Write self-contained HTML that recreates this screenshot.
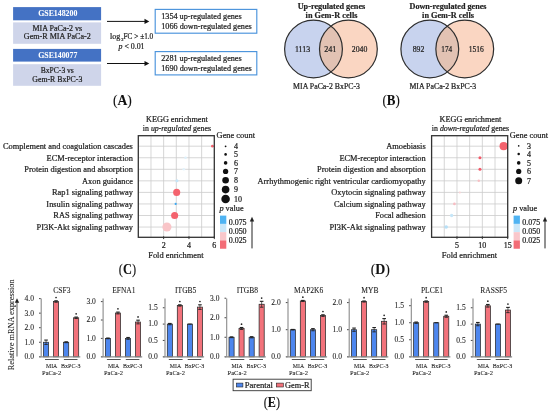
<!DOCTYPE html>
<html><head><meta charset="utf-8"><style>
html,body{margin:0;padding:0;background:#fff;}
body{width:550px;height:411px;overflow:hidden;}
svg{display:block;will-change:transform;}
text{font-family:"Liberation Serif", serif;fill:#222;stroke:#222;stroke-width:0.22px;}
.b{stroke-width:0.05px;}
.e{stroke-width:0.08px;fill:#1a1a1a;stroke:#1a1a1a;}
.w{fill:#fff;stroke:#fff;stroke-width:0.05px;}
.pl{fill:#111;stroke:#111;stroke-width:0.1px;}
</style></head><body>
<svg width="550" height="411" viewBox="0 0 550 411">
<rect x="13.1" y="7.1" width="88" height="13.2" fill="#4472C4"/>
<rect x="13.1" y="22.4" width="88" height="21.4" fill="#CFD5EA"/>
<rect x="13.1" y="48.9" width="88" height="12.7" fill="#4472C4"/>
<rect x="13.1" y="64.2" width="88" height="21.6" fill="#CFD5EA"/>
<text x="57.80" y="16.30" font-size="8" text-anchor="middle" textLength="39.20" lengthAdjust="spacingAndGlyphs" font-weight="bold" class="w" >GSE148200</text>
<text x="57.35" y="30.60" font-size="8" text-anchor="middle" textLength="49.70" lengthAdjust="spacingAndGlyphs" >MIA PaCa-2 vs</text>
<text x="57.30" y="39.20" font-size="8" text-anchor="middle" textLength="67.00" lengthAdjust="spacingAndGlyphs" >Gem-R MIA PaCa-2</text>
<text x="57.80" y="58.00" font-size="8" text-anchor="middle" textLength="39.20" lengthAdjust="spacingAndGlyphs" font-weight="bold" class="w" >GSE140077</text>
<text x="57.30" y="72.90" font-size="8" text-anchor="middle" textLength="33.00" lengthAdjust="spacingAndGlyphs" >BxPC-3 vs</text>
<text x="57.30" y="81.50" font-size="8" text-anchor="middle" textLength="50.00" lengthAdjust="spacingAndGlyphs" >Gem-R BxPC-3</text>
<line x1="107" y1="21.4" x2="145" y2="21.4" stroke="#111" stroke-width="1"/>
<path d="M144.5 18.799999999999997 L149.3 21.4 L144.5 24.0 Z" fill="#111"/>
<line x1="107" y1="63.5" x2="145" y2="63.5" stroke="#111" stroke-width="1"/>
<path d="M144.5 60.9 L149.3 63.5 L144.5 66.1 Z" fill="#111"/>
<text x="110" y="39.4" font-size="8">log</text>
<text x="121.2" y="40.6" font-size="4.5">2</text>
<text x="123.6" y="39.4" font-size="8" textLength="29.6" lengthAdjust="spacingAndGlyphs">FC &gt; ±1.0</text>
<text x="118.5" y="48.5" font-size="8" textLength="26" lengthAdjust="spacingAndGlyphs"><tspan font-style="italic">p</tspan> &lt; 0.01</text>
<rect x="155.2" y="9.4" width="101.6" height="23.8" fill="#fff" stroke="#4A93DC" stroke-width="1.15"/>
<rect x="155.2" y="51.6" width="101.6" height="23.3" fill="#fff" stroke="#4A93DC" stroke-width="1.15"/>
<text x="161.20" y="19.20" font-size="8" textLength="80.50" lengthAdjust="spacingAndGlyphs" >1354 up-regulated genes</text>
<text x="161.20" y="28.50" font-size="8" textLength="90.60" lengthAdjust="spacingAndGlyphs" >1066 down-regulated genes</text>
<text x="161.20" y="61.40" font-size="8" textLength="80.50" lengthAdjust="spacingAndGlyphs" >2281 up-regulated genes</text>
<text x="161.20" y="70.70" font-size="8" textLength="90.60" lengthAdjust="spacingAndGlyphs" >1690 down-regulated genes</text>
<text x="122.45" y="105.10" font-size="14" text-anchor="middle" class="pl" textLength="18.90" lengthAdjust="spacingAndGlyphs">(<tspan font-weight="bold">A</tspan>)</text>
<circle cx="313.5" cy="49.0" r="28.9" fill="#C8D3EE"/>
<circle cx="348.4" cy="49.0" r="28.9" fill="#FAD6C2"/>
<clipPath id="cp313"><circle cx="313.5" cy="49.0" r="28.9"/></clipPath>
<circle cx="348.4" cy="49.0" r="28.9" fill="#E2C2B3" clip-path="url(#cp313)"/>
<circle cx="313.5" cy="49.0" r="28.9" fill="none" stroke="#2e2e2e" stroke-width="1.2"/>
<circle cx="348.4" cy="49.0" r="28.9" fill="none" stroke="#2e2e2e" stroke-width="1.2"/>
<text x="302.50" y="52.30" font-size="8" text-anchor="middle" textLength="15.20" lengthAdjust="spacingAndGlyphs" >1113</text>
<text x="330.35" y="52.30" font-size="8" text-anchor="middle" textLength="12.10" lengthAdjust="spacingAndGlyphs" >241</text>
<text x="359.50" y="52.30" font-size="8" text-anchor="middle" textLength="15.50" lengthAdjust="spacingAndGlyphs" >2040</text>
<text x="331.50" y="9.10" font-size="7.4" text-anchor="middle" textLength="67.60" lengthAdjust="spacingAndGlyphs" font-weight="bold" class="b" style="stroke-width:0.18px">Up-regulated genes</text>
<text x="331.50" y="17.80" font-size="7.4" text-anchor="middle" textLength="51.80" lengthAdjust="spacingAndGlyphs" font-weight="bold" class="b" style="stroke-width:0.18px">in Gem-R cells</text>
<text x="293.10" y="88.80" font-size="7.7" textLength="66.90" lengthAdjust="spacingAndGlyphs" >MIA PaCa-2 BxPC-3</text>
<circle cx="429.8" cy="49.0" r="28.9" fill="#C8D3EE"/>
<circle cx="464.75" cy="49.0" r="28.9" fill="#FAD6C2"/>
<clipPath id="cp429"><circle cx="429.8" cy="49.0" r="28.9"/></clipPath>
<circle cx="464.75" cy="49.0" r="28.9" fill="#E2C2B3" clip-path="url(#cp429)"/>
<circle cx="429.8" cy="49.0" r="28.9" fill="none" stroke="#2e2e2e" stroke-width="1.2"/>
<circle cx="464.75" cy="49.0" r="28.9" fill="none" stroke="#2e2e2e" stroke-width="1.2"/>
<text x="418.50" y="52.30" font-size="8" text-anchor="middle" textLength="11.60" lengthAdjust="spacingAndGlyphs" >892</text>
<text x="446.70" y="52.30" font-size="8" text-anchor="middle" textLength="10.80" lengthAdjust="spacingAndGlyphs" >174</text>
<text x="476.20" y="52.30" font-size="8" text-anchor="middle" textLength="15.10" lengthAdjust="spacingAndGlyphs" >1516</text>
<text x="448.00" y="9.10" font-size="7.4" text-anchor="middle" textLength="77.00" lengthAdjust="spacingAndGlyphs" font-weight="bold" class="b" style="stroke-width:0.18px">Down-regulated genes</text>
<text x="448.00" y="17.80" font-size="7.4" text-anchor="middle" textLength="51.80" lengthAdjust="spacingAndGlyphs" font-weight="bold" class="b" style="stroke-width:0.18px">in Gem-R cells</text>
<text x="409.40" y="88.80" font-size="7.7" textLength="66.90" lengthAdjust="spacingAndGlyphs" >MIA PaCa-2 BxPC-3</text>
<text x="391.15" y="105.10" font-size="14" text-anchor="middle" class="pl" textLength="17.30" lengthAdjust="spacingAndGlyphs">(<tspan font-weight="bold">B</tspan>)</text>
<line x1="150.97" y1="135.7" x2="150.97" y2="237.3" stroke="#cbcbcb" stroke-width="0.8"/>
<line x1="163.63" y1="135.7" x2="163.63" y2="237.3" stroke="#cbcbcb" stroke-width="0.8"/>
<line x1="176.30" y1="135.7" x2="176.30" y2="237.3" stroke="#cbcbcb" stroke-width="0.8"/>
<line x1="188.97" y1="135.7" x2="188.97" y2="237.3" stroke="#cbcbcb" stroke-width="0.8"/>
<line x1="201.63" y1="135.7" x2="201.63" y2="237.3" stroke="#cbcbcb" stroke-width="0.8"/>
<line x1="138.3" y1="146.20" x2="214.3" y2="146.20" stroke="#cbcbcb" stroke-width="0.8"/>
<line x1="138.3" y1="157.75" x2="214.3" y2="157.75" stroke="#cbcbcb" stroke-width="0.8"/>
<line x1="138.3" y1="169.30" x2="214.3" y2="169.30" stroke="#cbcbcb" stroke-width="0.8"/>
<line x1="138.3" y1="180.85" x2="214.3" y2="180.85" stroke="#cbcbcb" stroke-width="0.8"/>
<line x1="138.3" y1="192.40" x2="214.3" y2="192.40" stroke="#cbcbcb" stroke-width="0.8"/>
<line x1="138.3" y1="203.95" x2="214.3" y2="203.95" stroke="#cbcbcb" stroke-width="0.8"/>
<line x1="138.3" y1="215.50" x2="214.3" y2="215.50" stroke="#cbcbcb" stroke-width="0.8"/>
<line x1="138.3" y1="227.05" x2="214.3" y2="227.05" stroke="#cbcbcb" stroke-width="0.8"/>
<circle cx="185.55" cy="157.75" r="1.30" fill="#DDF0FB"/>
<circle cx="183.77" cy="169.30" r="1.30" fill="#E2F2FB"/>
<circle cx="176.93" cy="180.85" r="1.50" fill="#C4E5F8"/>
<circle cx="212.40" cy="146.20" r="1.35" fill="#F4636E"/>
<circle cx="176.68" cy="192.40" r="3.55" fill="#F4636E"/>
<circle cx="175.67" cy="203.95" r="1.10" fill="#3DA8F2"/>
<circle cx="174.65" cy="215.50" r="3.55" fill="#F4636E"/>
<circle cx="166.93" cy="227.05" r="4.55" fill="#F9C5C8"/>
<rect x="138.3" y="135.7" width="76.0" height="101.60000000000002" fill="none" stroke="#333" stroke-width="1.3"/>
<line x1="163.63" y1="236.3" x2="163.63" y2="239.10000000000002" stroke="#333" stroke-width="1"/>
<text x="163.63" y="247.80" font-size="8" text-anchor="middle" >2</text>
<line x1="188.97" y1="236.3" x2="188.97" y2="239.10000000000002" stroke="#333" stroke-width="1"/>
<text x="188.97" y="247.80" font-size="8" text-anchor="middle" >4</text>
<line x1="214.30" y1="236.3" x2="214.30" y2="239.10000000000002" stroke="#333" stroke-width="1"/>
<text x="214.30" y="247.80" font-size="8" text-anchor="middle" >6</text>
<text x="175.90" y="257.80" font-size="8" text-anchor="middle" textLength="55.30" lengthAdjust="spacingAndGlyphs" >Fold enrichment</text>
<text x="132.90" y="149.10" font-size="8.4" text-anchor="end" >Complement and coagulation cascades</text>
<text x="132.90" y="160.65" font-size="8.4" text-anchor="end" >ECM-receptor interaction</text>
<text x="132.90" y="172.20" font-size="8.4" text-anchor="end" >Protein digestion and absorption</text>
<text x="132.90" y="183.75" font-size="8.4" text-anchor="end" >Axon guidance</text>
<text x="132.90" y="195.30" font-size="8.4" text-anchor="end" >Rap1 signaling pathway</text>
<text x="132.90" y="206.85" font-size="8.4" text-anchor="end" >Insulin signaling pathway</text>
<text x="132.90" y="218.40" font-size="8.4" text-anchor="end" >RAS signaling pathway</text>
<text x="132.90" y="229.95" font-size="8.4" text-anchor="end" >PI3K-Akt signaling pathway</text>
<text x="176.90" y="121.50" font-size="8" text-anchor="middle" textLength="61.80" lengthAdjust="spacingAndGlyphs" >KEGG enrichment</text>
<text x="176.90" y="130.7" font-size="8" text-anchor="middle" textLength="68.20" lengthAdjust="spacingAndGlyphs">in <tspan font-style="italic">up-regulated</tspan> genes</text>
<text x="216.60" y="137.70" font-size="8" textLength="38.40" lengthAdjust="spacingAndGlyphs" >Gene count</text>
<circle cx="225.6" cy="146.3" r="0.90" fill="#111"/>
<text x="234.00" y="149.10" font-size="8" >4</text>
<circle cx="225.6" cy="154.4" r="1.30" fill="#111"/>
<text x="234.00" y="157.20" font-size="8" >5</text>
<circle cx="225.6" cy="162.9" r="1.80" fill="#111"/>
<text x="234.00" y="165.70" font-size="8" >6</text>
<circle cx="225.6" cy="171.4" r="2.65" fill="#111"/>
<text x="234.00" y="174.20" font-size="8" >7</text>
<circle cx="225.6" cy="180.3" r="3.30" fill="#111"/>
<text x="234.00" y="183.10" font-size="8" >8</text>
<circle cx="225.6" cy="189.6" r="3.80" fill="#111"/>
<text x="234.00" y="192.40" font-size="8" >9</text>
<circle cx="225.6" cy="199.0" r="4.30" fill="#111"/>
<text x="234.00" y="201.80" font-size="8" >10</text>
<text x="219.40" y="211.4" font-size="8" textLength="24.2" lengthAdjust="spacingAndGlyphs"><tspan font-style="italic">p</tspan> value</text>
<rect x="220.0" y="215.60" width="6.3" height="8.32" fill="#4FB3F2"/>
<rect x="220.0" y="223.88" width="6.3" height="8.32" fill="#CBE7F8"/>
<rect x="220.0" y="232.15" width="6.3" height="8.32" fill="#F9C7CB"/>
<rect x="220.0" y="240.42" width="6.3" height="8.32" fill="#F36C76"/>
<text x="228.70" y="225.00" font-size="8" textLength="17.90" lengthAdjust="spacingAndGlyphs" >0.075</text>
<text x="228.70" y="234.00" font-size="8" textLength="17.90" lengthAdjust="spacingAndGlyphs" >0.050</text>
<text x="228.70" y="243.00" font-size="8" textLength="17.90" lengthAdjust="spacingAndGlyphs" >0.025</text>
<line x1="252.0" y1="220" x2="252.0" y2="248.4" stroke="#222" stroke-width="1"/>
<path d="M249.8 221.5 L252.0 216.8 L254.2 221.5 Z" fill="#222"/>
<line x1="444.28" y1="135.7" x2="444.28" y2="237.3" stroke="#cbcbcb" stroke-width="0.8"/>
<line x1="456.97" y1="135.7" x2="456.97" y2="237.3" stroke="#cbcbcb" stroke-width="0.8"/>
<line x1="469.65" y1="135.7" x2="469.65" y2="237.3" stroke="#cbcbcb" stroke-width="0.8"/>
<line x1="482.33" y1="135.7" x2="482.33" y2="237.3" stroke="#cbcbcb" stroke-width="0.8"/>
<line x1="495.02" y1="135.7" x2="495.02" y2="237.3" stroke="#cbcbcb" stroke-width="0.8"/>
<line x1="431.6" y1="146.20" x2="507.7" y2="146.20" stroke="#cbcbcb" stroke-width="0.8"/>
<line x1="431.6" y1="157.75" x2="507.7" y2="157.75" stroke="#cbcbcb" stroke-width="0.8"/>
<line x1="431.6" y1="169.30" x2="507.7" y2="169.30" stroke="#cbcbcb" stroke-width="0.8"/>
<line x1="431.6" y1="180.85" x2="507.7" y2="180.85" stroke="#cbcbcb" stroke-width="0.8"/>
<line x1="431.6" y1="192.40" x2="507.7" y2="192.40" stroke="#cbcbcb" stroke-width="0.8"/>
<line x1="431.6" y1="203.95" x2="507.7" y2="203.95" stroke="#cbcbcb" stroke-width="0.8"/>
<line x1="431.6" y1="215.50" x2="507.7" y2="215.50" stroke="#cbcbcb" stroke-width="0.8"/>
<line x1="431.6" y1="227.05" x2="507.7" y2="227.05" stroke="#cbcbcb" stroke-width="0.8"/>
<circle cx="503.64" cy="146.20" r="4.10" fill="#F4636E"/>
<circle cx="479.95" cy="157.75" r="1.50" fill="#F25A6A"/>
<circle cx="479.95" cy="169.30" r="1.50" fill="#F25A6A"/>
<circle cx="478.78" cy="180.85" r="1.25" fill="#F8BFC4"/>
<circle cx="459.81" cy="192.40" r="1.00" fill="#FAD3D6"/>
<circle cx="454.43" cy="203.95" r="1.35" fill="#F8BCC2"/>
<circle cx="451.64" cy="215.50" r="1.65" fill="#C6E6F8"/>
<circle cx="446.16" cy="227.05" r="1.80" fill="#B6DFF7"/>
<rect x="431.6" y="135.7" width="76.09999999999997" height="101.60000000000002" fill="none" stroke="#333" stroke-width="1.3"/>
<line x1="456.97" y1="236.3" x2="456.97" y2="239.10000000000002" stroke="#333" stroke-width="1"/>
<text x="456.97" y="247.80" font-size="8" text-anchor="middle" >5</text>
<line x1="482.33" y1="236.3" x2="482.33" y2="239.10000000000002" stroke="#333" stroke-width="1"/>
<text x="482.33" y="247.80" font-size="8" text-anchor="middle" >10</text>
<line x1="507.70" y1="236.3" x2="507.70" y2="239.10000000000002" stroke="#333" stroke-width="1"/>
<text x="507.70" y="247.80" font-size="8" text-anchor="middle" >15</text>
<text x="469.50" y="257.80" font-size="8" text-anchor="middle" textLength="55.30" lengthAdjust="spacingAndGlyphs" >Fold enrichment</text>
<text x="425.70" y="149.10" font-size="8.4" text-anchor="end" >Amoebiasis</text>
<text x="425.70" y="160.65" font-size="8.4" text-anchor="end" >ECM-receptor interaction</text>
<text x="425.70" y="172.20" font-size="8.4" text-anchor="end" >Protein digestion and absorption</text>
<text x="425.70" y="183.75" font-size="8.4" text-anchor="end" >Arrhythmogenic right ventricular cardiomyopathy</text>
<text x="425.70" y="195.30" font-size="8.4" text-anchor="end" >Oxytocin signaling pathway</text>
<text x="425.70" y="206.85" font-size="8.4" text-anchor="end" >Calcium signaling pathway</text>
<text x="425.70" y="218.40" font-size="8.4" text-anchor="end" >Focal adhesion</text>
<text x="425.70" y="229.95" font-size="8.4" text-anchor="end" >PI3K-Akt signaling pathway</text>
<text x="470.50" y="121.50" font-size="8" text-anchor="middle" textLength="61.80" lengthAdjust="spacingAndGlyphs" >KEGG enrichment</text>
<text x="470.50" y="130.7" font-size="8" text-anchor="middle" textLength="77.30" lengthAdjust="spacingAndGlyphs">in <tspan font-style="italic">down-regulated</tspan> genes</text>
<text x="509.70" y="137.70" font-size="8" textLength="38.40" lengthAdjust="spacingAndGlyphs" >Gene count</text>
<circle cx="518.7" cy="145.9" r="0.80" fill="#111"/>
<text x="527.10" y="148.70" font-size="8" >3</text>
<circle cx="518.7" cy="154.0" r="1.25" fill="#111"/>
<text x="527.10" y="156.80" font-size="8" >4</text>
<circle cx="518.7" cy="162.9" r="1.80" fill="#111"/>
<text x="527.10" y="165.70" font-size="8" >5</text>
<circle cx="518.7" cy="171.4" r="2.60" fill="#111"/>
<text x="527.10" y="174.20" font-size="8" >6</text>
<circle cx="518.7" cy="180.7" r="3.50" fill="#111"/>
<text x="527.10" y="183.50" font-size="8" >7</text>
<text x="513.00" y="211.4" font-size="8" textLength="24.2" lengthAdjust="spacingAndGlyphs"><tspan font-style="italic">p</tspan> value</text>
<rect x="513.6" y="215.60" width="6.3" height="8.32" fill="#4FB3F2"/>
<rect x="513.6" y="223.88" width="6.3" height="8.32" fill="#CBE7F8"/>
<rect x="513.6" y="232.15" width="6.3" height="8.32" fill="#F9C7CB"/>
<rect x="513.6" y="240.42" width="6.3" height="8.32" fill="#F36C76"/>
<text x="522.30" y="225.00" font-size="8" textLength="17.90" lengthAdjust="spacingAndGlyphs" >0.075</text>
<text x="522.30" y="234.00" font-size="8" textLength="17.90" lengthAdjust="spacingAndGlyphs" >0.050</text>
<text x="522.30" y="243.00" font-size="8" textLength="17.90" lengthAdjust="spacingAndGlyphs" >0.025</text>
<line x1="545.0" y1="220" x2="545.0" y2="248.4" stroke="#222" stroke-width="1"/>
<path d="M542.8 221.5 L545.0 216.8 L547.2 221.5 Z" fill="#222"/>
<text x="127.45" y="273.80" font-size="14" text-anchor="middle" class="pl" textLength="17.30" lengthAdjust="spacingAndGlyphs">(<tspan font-weight="bold">C</tspan>)</text>
<text x="380.30" y="273.60" font-size="14" text-anchor="middle" class="pl" textLength="19.30" lengthAdjust="spacingAndGlyphs">(<tspan font-weight="bold">D</tspan>)</text>
<text class="e" x="0" y="0" font-size="8.2" text-anchor="middle" textLength="90.9" lengthAdjust="spacingAndGlyphs" transform="translate(13.6 324.85) rotate(-90)">Relative mRNA expression</text>
<line x1="17" y1="301" x2="17" y2="356.6" stroke="#666" stroke-width="1.1"/>
<path d="M14.8 302.8 L17 298.2 L19.2 302.8 Z" fill="#222"/>
<text x="61.90" y="293.20" font-size="7.5" text-anchor="middle" class="e">CSF3</text>
<line x1="41.2" y1="298.5" x2="41.2" y2="356.8" stroke="#8a8a8a" stroke-width="1.1"/>
<line x1="39.0" y1="356.80" x2="40.7" y2="356.80" stroke="#333" stroke-width="0.9"/>
<text x="33.90" y="359.15" font-size="7.2" text-anchor="end" textLength="9.40" lengthAdjust="spacingAndGlyphs" class="e">0.0</text>
<line x1="39.0" y1="342.25" x2="40.7" y2="342.25" stroke="#333" stroke-width="0.9"/>
<text x="33.90" y="344.60" font-size="7.2" text-anchor="end" textLength="9.40" lengthAdjust="spacingAndGlyphs" class="e">1.0</text>
<line x1="39.0" y1="327.70" x2="40.7" y2="327.70" stroke="#333" stroke-width="0.9"/>
<text x="33.90" y="330.05" font-size="7.2" text-anchor="end" textLength="9.40" lengthAdjust="spacingAndGlyphs" class="e">2.0</text>
<line x1="39.0" y1="313.15" x2="40.7" y2="313.15" stroke="#333" stroke-width="0.9"/>
<text x="33.90" y="315.50" font-size="7.2" text-anchor="end" textLength="9.40" lengthAdjust="spacingAndGlyphs" class="e">3.0</text>
<line x1="39.0" y1="298.60" x2="40.7" y2="298.60" stroke="#333" stroke-width="0.9"/>
<text x="33.90" y="300.95" font-size="7.2" text-anchor="end" textLength="9.40" lengthAdjust="spacingAndGlyphs" class="e">4.0</text>
<rect x="43.50" y="342.25" width="5.1" height="14.55" fill="#4D86EE" stroke="#2a2a2a" stroke-width="0.75"/>
<line x1="46.05" y1="340.07" x2="46.05" y2="344.43" stroke="#222" stroke-width="0.7"/>
<line x1="44.35" y1="344.43" x2="47.75" y2="344.43" stroke="#222" stroke-width="0.9"/>
<line x1="44.25" y1="340.07" x2="47.85" y2="340.07" stroke="#222" stroke-width="1.1"/>
<rect x="53.50" y="301.51" width="5.1" height="55.29" fill="#F2727B" stroke="#2a2a2a" stroke-width="0.75"/>
<line x1="56.05" y1="300.78" x2="56.05" y2="302.24" stroke="#222" stroke-width="0.7"/>
<line x1="54.35" y1="302.24" x2="57.75" y2="302.24" stroke="#222" stroke-width="0.9"/>
<line x1="54.25" y1="300.78" x2="57.85" y2="300.78" stroke="#222" stroke-width="1.1"/>
<circle cx="56.05" cy="297.48" r="0.85" fill="#222"/>
<rect x="63.60" y="342.25" width="5.1" height="14.55" fill="#4D86EE" stroke="#2a2a2a" stroke-width="0.75"/>
<line x1="66.15" y1="341.81" x2="66.15" y2="342.69" stroke="#222" stroke-width="0.7"/>
<line x1="64.45" y1="342.69" x2="67.85" y2="342.69" stroke="#222" stroke-width="0.9"/>
<line x1="64.35" y1="341.81" x2="67.95" y2="341.81" stroke="#222" stroke-width="1.1"/>
<rect x="73.60" y="317.81" width="5.1" height="38.99" fill="#F2727B" stroke="#2a2a2a" stroke-width="0.75"/>
<line x1="76.15" y1="317.08" x2="76.15" y2="318.53" stroke="#222" stroke-width="0.7"/>
<line x1="74.45" y1="318.53" x2="77.85" y2="318.53" stroke="#222" stroke-width="0.9"/>
<line x1="74.35" y1="317.08" x2="77.95" y2="317.08" stroke="#222" stroke-width="1.1"/>
<circle cx="76.15" cy="313.78" r="0.85" fill="#222"/>
<line x1="39.400000000000006" y1="356.8" x2="80.30000000000001" y2="356.8" stroke="#8a8a8a" stroke-width="1.2"/>
<line x1="45.0" y1="359.5" x2="58.800000000000004" y2="359.5" stroke="#555" stroke-width="1"/>
<line x1="63.900000000000006" y1="359.5" x2="77.5" y2="359.5" stroke="#555" stroke-width="1"/>
<text x="51.65" y="367.70" font-size="7.0" text-anchor="middle" textLength="11.30" lengthAdjust="spacingAndGlyphs" class="e">MIA</text>
<text x="70.75" y="367.70" font-size="7.0" text-anchor="middle" textLength="19.40" lengthAdjust="spacingAndGlyphs" class="e">BxPC-3</text>
<text x="51.65" y="374.80" font-size="7.0" text-anchor="middle" textLength="19.10" lengthAdjust="spacingAndGlyphs" class="e">PaCa-2</text>
<text x="123.80" y="293.20" font-size="7.5" text-anchor="middle" class="e">EFNA1</text>
<line x1="103.1" y1="298.5" x2="103.1" y2="356.8" stroke="#8a8a8a" stroke-width="1.1"/>
<line x1="100.89999999999999" y1="356.80" x2="102.6" y2="356.80" stroke="#333" stroke-width="0.9"/>
<text x="95.80" y="359.15" font-size="7.2" text-anchor="end" textLength="9.40" lengthAdjust="spacingAndGlyphs" class="e">0.0</text>
<line x1="100.89999999999999" y1="338.40" x2="102.6" y2="338.40" stroke="#333" stroke-width="0.9"/>
<text x="95.80" y="340.75" font-size="7.2" text-anchor="end" textLength="9.40" lengthAdjust="spacingAndGlyphs" class="e">1.0</text>
<line x1="100.89999999999999" y1="320.00" x2="102.6" y2="320.00" stroke="#333" stroke-width="0.9"/>
<text x="95.80" y="322.35" font-size="7.2" text-anchor="end" textLength="9.40" lengthAdjust="spacingAndGlyphs" class="e">2.0</text>
<line x1="100.89999999999999" y1="301.60" x2="102.6" y2="301.60" stroke="#333" stroke-width="0.9"/>
<text x="95.80" y="303.95" font-size="7.2" text-anchor="end" textLength="9.40" lengthAdjust="spacingAndGlyphs" class="e">3.0</text>
<rect x="105.40" y="338.40" width="5.1" height="18.40" fill="#4D86EE" stroke="#2a2a2a" stroke-width="0.75"/>
<line x1="107.95" y1="338.03" x2="107.95" y2="338.77" stroke="#222" stroke-width="0.7"/>
<line x1="106.25" y1="338.77" x2="109.65" y2="338.77" stroke="#222" stroke-width="0.9"/>
<line x1="106.15" y1="338.03" x2="109.75" y2="338.03" stroke="#222" stroke-width="1.1"/>
<rect x="115.40" y="313.01" width="5.1" height="43.79" fill="#F2727B" stroke="#2a2a2a" stroke-width="0.75"/>
<line x1="117.95" y1="312.09" x2="117.95" y2="313.93" stroke="#222" stroke-width="0.7"/>
<line x1="116.25" y1="313.93" x2="119.65" y2="313.93" stroke="#222" stroke-width="0.9"/>
<line x1="116.15" y1="312.09" x2="119.75" y2="312.09" stroke="#222" stroke-width="1.1"/>
<circle cx="117.95" cy="308.79" r="0.85" fill="#222"/>
<rect x="125.50" y="338.40" width="5.1" height="18.40" fill="#4D86EE" stroke="#2a2a2a" stroke-width="0.75"/>
<line x1="128.05" y1="337.48" x2="128.05" y2="339.32" stroke="#222" stroke-width="0.7"/>
<line x1="126.35" y1="339.32" x2="129.75" y2="339.32" stroke="#222" stroke-width="0.9"/>
<line x1="126.25" y1="337.48" x2="129.85" y2="337.48" stroke="#222" stroke-width="1.1"/>
<rect x="135.50" y="322.02" width="5.1" height="34.78" fill="#F2727B" stroke="#2a2a2a" stroke-width="0.75"/>
<line x1="138.05" y1="320.18" x2="138.05" y2="323.86" stroke="#222" stroke-width="0.7"/>
<line x1="136.35" y1="323.86" x2="139.75" y2="323.86" stroke="#222" stroke-width="0.9"/>
<line x1="136.25" y1="320.18" x2="139.85" y2="320.18" stroke="#222" stroke-width="1.1"/>
<circle cx="138.05" cy="316.88" r="0.85" fill="#222"/>
<line x1="101.3" y1="356.8" x2="142.2" y2="356.8" stroke="#8a8a8a" stroke-width="1.2"/>
<line x1="106.89999999999999" y1="359.5" x2="120.69999999999999" y2="359.5" stroke="#555" stroke-width="1"/>
<line x1="125.8" y1="359.5" x2="139.39999999999998" y2="359.5" stroke="#555" stroke-width="1"/>
<text x="113.55" y="367.70" font-size="7.0" text-anchor="middle" textLength="11.30" lengthAdjust="spacingAndGlyphs" class="e">MIA</text>
<text x="132.65" y="367.70" font-size="7.0" text-anchor="middle" textLength="19.40" lengthAdjust="spacingAndGlyphs" class="e">BxPC-3</text>
<text x="113.55" y="374.80" font-size="7.0" text-anchor="middle" textLength="19.10" lengthAdjust="spacingAndGlyphs" class="e">PaCa-2</text>
<text x="185.70" y="293.20" font-size="7.5" text-anchor="middle" class="e">ITGB5</text>
<line x1="165.0" y1="298.5" x2="165.0" y2="356.8" stroke="#8a8a8a" stroke-width="1.1"/>
<line x1="162.8" y1="356.80" x2="164.5" y2="356.80" stroke="#333" stroke-width="0.9"/>
<text x="157.70" y="359.15" font-size="7.2" text-anchor="end" textLength="9.40" lengthAdjust="spacingAndGlyphs" class="e">0.0</text>
<line x1="162.8" y1="340.45" x2="164.5" y2="340.45" stroke="#333" stroke-width="0.9"/>
<text x="157.70" y="342.80" font-size="7.2" text-anchor="end" textLength="9.40" lengthAdjust="spacingAndGlyphs" class="e">0.5</text>
<line x1="162.8" y1="324.10" x2="164.5" y2="324.10" stroke="#333" stroke-width="0.9"/>
<text x="157.70" y="326.45" font-size="7.2" text-anchor="end" textLength="9.40" lengthAdjust="spacingAndGlyphs" class="e">1.0</text>
<line x1="162.8" y1="307.75" x2="164.5" y2="307.75" stroke="#333" stroke-width="0.9"/>
<text x="157.70" y="310.10" font-size="7.2" text-anchor="end" textLength="9.40" lengthAdjust="spacingAndGlyphs" class="e">1.5</text>
<rect x="167.30" y="324.10" width="5.1" height="32.70" fill="#4D86EE" stroke="#2a2a2a" stroke-width="0.75"/>
<line x1="169.85" y1="323.45" x2="169.85" y2="324.75" stroke="#222" stroke-width="0.7"/>
<line x1="168.15" y1="324.75" x2="171.55" y2="324.75" stroke="#222" stroke-width="0.9"/>
<line x1="168.05" y1="323.45" x2="171.65" y2="323.45" stroke="#222" stroke-width="1.1"/>
<rect x="177.30" y="305.46" width="5.1" height="51.34" fill="#F2727B" stroke="#2a2a2a" stroke-width="0.75"/>
<line x1="179.85" y1="304.81" x2="179.85" y2="306.12" stroke="#222" stroke-width="0.7"/>
<line x1="178.15" y1="306.12" x2="181.55" y2="306.12" stroke="#222" stroke-width="0.9"/>
<line x1="178.05" y1="304.81" x2="181.65" y2="304.81" stroke="#222" stroke-width="1.1"/>
<circle cx="179.85" cy="301.51" r="0.85" fill="#222"/>
<rect x="187.40" y="324.10" width="5.1" height="32.70" fill="#4D86EE" stroke="#2a2a2a" stroke-width="0.75"/>
<line x1="188.15" y1="324.10" x2="191.75" y2="324.10" stroke="#222" stroke-width="1.1"/>
<rect x="197.40" y="307.10" width="5.1" height="49.70" fill="#F2727B" stroke="#2a2a2a" stroke-width="0.75"/>
<line x1="199.95" y1="304.81" x2="199.95" y2="309.38" stroke="#222" stroke-width="0.7"/>
<line x1="198.25" y1="309.38" x2="201.65" y2="309.38" stroke="#222" stroke-width="0.9"/>
<line x1="198.15" y1="304.81" x2="201.75" y2="304.81" stroke="#222" stroke-width="1.1"/>
<circle cx="199.95" cy="301.51" r="0.85" fill="#222"/>
<line x1="163.2" y1="356.8" x2="204.1" y2="356.8" stroke="#8a8a8a" stroke-width="1.2"/>
<line x1="168.8" y1="359.5" x2="182.6" y2="359.5" stroke="#555" stroke-width="1"/>
<line x1="187.7" y1="359.5" x2="201.3" y2="359.5" stroke="#555" stroke-width="1"/>
<text x="175.45" y="367.70" font-size="7.0" text-anchor="middle" textLength="11.30" lengthAdjust="spacingAndGlyphs" class="e">MIA</text>
<text x="194.55" y="367.70" font-size="7.0" text-anchor="middle" textLength="19.40" lengthAdjust="spacingAndGlyphs" class="e">BxPC-3</text>
<text x="175.45" y="374.80" font-size="7.0" text-anchor="middle" textLength="19.10" lengthAdjust="spacingAndGlyphs" class="e">PaCa-2</text>
<text x="247.40" y="293.20" font-size="7.5" text-anchor="middle" class="e">ITGB8</text>
<line x1="226.7" y1="298.5" x2="226.7" y2="356.8" stroke="#8a8a8a" stroke-width="1.1"/>
<line x1="224.5" y1="356.80" x2="226.2" y2="356.80" stroke="#333" stroke-width="0.9"/>
<text x="219.40" y="359.15" font-size="7.2" text-anchor="end" textLength="9.40" lengthAdjust="spacingAndGlyphs" class="e">0.0</text>
<line x1="224.5" y1="337.27" x2="226.2" y2="337.27" stroke="#333" stroke-width="0.9"/>
<text x="219.40" y="339.62" font-size="7.2" text-anchor="end" textLength="9.40" lengthAdjust="spacingAndGlyphs" class="e">1.0</text>
<line x1="224.5" y1="317.74" x2="226.2" y2="317.74" stroke="#333" stroke-width="0.9"/>
<text x="219.40" y="320.09" font-size="7.2" text-anchor="end" textLength="9.40" lengthAdjust="spacingAndGlyphs" class="e">2.0</text>
<line x1="224.5" y1="298.21" x2="226.2" y2="298.21" stroke="#333" stroke-width="0.9"/>
<text x="219.40" y="300.56" font-size="7.2" text-anchor="end" textLength="9.40" lengthAdjust="spacingAndGlyphs" class="e">3.0</text>
<rect x="229.00" y="337.27" width="5.1" height="19.53" fill="#4D86EE" stroke="#2a2a2a" stroke-width="0.75"/>
<line x1="231.55" y1="336.88" x2="231.55" y2="337.66" stroke="#222" stroke-width="0.7"/>
<line x1="229.85" y1="337.66" x2="233.25" y2="337.66" stroke="#222" stroke-width="0.9"/>
<line x1="229.75" y1="336.88" x2="233.35" y2="336.88" stroke="#222" stroke-width="1.1"/>
<rect x="239.00" y="328.48" width="5.1" height="28.32" fill="#F2727B" stroke="#2a2a2a" stroke-width="0.75"/>
<line x1="241.55" y1="327.50" x2="241.55" y2="329.46" stroke="#222" stroke-width="0.7"/>
<line x1="239.85" y1="329.46" x2="243.25" y2="329.46" stroke="#222" stroke-width="0.9"/>
<line x1="239.75" y1="327.50" x2="243.35" y2="327.50" stroke="#222" stroke-width="1.1"/>
<circle cx="241.55" cy="324.20" r="0.85" fill="#222"/>
<rect x="249.10" y="337.27" width="5.1" height="19.53" fill="#4D86EE" stroke="#2a2a2a" stroke-width="0.75"/>
<line x1="251.65" y1="336.68" x2="251.65" y2="337.86" stroke="#222" stroke-width="0.7"/>
<line x1="249.95" y1="337.86" x2="253.35" y2="337.86" stroke="#222" stroke-width="0.9"/>
<line x1="249.85" y1="336.68" x2="253.45" y2="336.68" stroke="#222" stroke-width="1.1"/>
<rect x="259.10" y="304.26" width="5.1" height="52.54" fill="#F2727B" stroke="#2a2a2a" stroke-width="0.75"/>
<line x1="261.65" y1="301.33" x2="261.65" y2="307.19" stroke="#222" stroke-width="0.7"/>
<line x1="259.95" y1="307.19" x2="263.35" y2="307.19" stroke="#222" stroke-width="0.9"/>
<line x1="259.85" y1="301.33" x2="263.45" y2="301.33" stroke="#222" stroke-width="1.1"/>
<circle cx="261.65" cy="298.03" r="0.85" fill="#222"/>
<line x1="224.89999999999998" y1="356.8" x2="265.8" y2="356.8" stroke="#8a8a8a" stroke-width="1.2"/>
<line x1="230.5" y1="359.5" x2="244.29999999999998" y2="359.5" stroke="#555" stroke-width="1"/>
<line x1="249.39999999999998" y1="359.5" x2="263.0" y2="359.5" stroke="#555" stroke-width="1"/>
<text x="237.15" y="367.70" font-size="7.0" text-anchor="middle" textLength="11.30" lengthAdjust="spacingAndGlyphs" class="e">MIA</text>
<text x="256.25" y="367.70" font-size="7.0" text-anchor="middle" textLength="19.40" lengthAdjust="spacingAndGlyphs" class="e">BxPC-3</text>
<text x="237.15" y="374.80" font-size="7.0" text-anchor="middle" textLength="19.10" lengthAdjust="spacingAndGlyphs" class="e">PaCa-2</text>
<text x="308.70" y="293.20" font-size="7.5" text-anchor="middle" class="e">MAP2K6</text>
<line x1="288.0" y1="298.5" x2="288.0" y2="356.8" stroke="#8a8a8a" stroke-width="1.1"/>
<line x1="285.8" y1="356.80" x2="287.5" y2="356.80" stroke="#333" stroke-width="0.9"/>
<text x="280.70" y="359.15" font-size="7.2" text-anchor="end" textLength="9.40" lengthAdjust="spacingAndGlyphs" class="e">0.0</text>
<line x1="285.8" y1="329.70" x2="287.5" y2="329.70" stroke="#333" stroke-width="0.9"/>
<text x="280.70" y="332.05" font-size="7.2" text-anchor="end" textLength="9.40" lengthAdjust="spacingAndGlyphs" class="e">1.0</text>
<line x1="285.8" y1="302.60" x2="287.5" y2="302.60" stroke="#333" stroke-width="0.9"/>
<text x="280.70" y="304.95" font-size="7.2" text-anchor="end" textLength="9.40" lengthAdjust="spacingAndGlyphs" class="e">2.0</text>
<rect x="290.30" y="329.70" width="5.1" height="27.10" fill="#4D86EE" stroke="#2a2a2a" stroke-width="0.75"/>
<line x1="292.85" y1="329.43" x2="292.85" y2="329.97" stroke="#222" stroke-width="0.7"/>
<line x1="291.15" y1="329.97" x2="294.55" y2="329.97" stroke="#222" stroke-width="0.9"/>
<line x1="291.05" y1="329.43" x2="294.65" y2="329.43" stroke="#222" stroke-width="1.1"/>
<rect x="300.30" y="300.97" width="5.1" height="55.83" fill="#F2727B" stroke="#2a2a2a" stroke-width="0.75"/>
<line x1="302.85" y1="300.43" x2="302.85" y2="301.52" stroke="#222" stroke-width="0.7"/>
<line x1="301.15" y1="301.52" x2="304.55" y2="301.52" stroke="#222" stroke-width="0.9"/>
<line x1="301.05" y1="300.43" x2="304.65" y2="300.43" stroke="#222" stroke-width="1.1"/>
<circle cx="302.85" cy="297.13" r="0.85" fill="#222"/>
<rect x="310.40" y="329.70" width="5.1" height="27.10" fill="#4D86EE" stroke="#2a2a2a" stroke-width="0.75"/>
<line x1="312.95" y1="328.62" x2="312.95" y2="330.78" stroke="#222" stroke-width="0.7"/>
<line x1="311.25" y1="330.78" x2="314.65" y2="330.78" stroke="#222" stroke-width="0.9"/>
<line x1="311.15" y1="328.62" x2="314.75" y2="328.62" stroke="#222" stroke-width="1.1"/>
<rect x="320.40" y="315.61" width="5.1" height="41.19" fill="#F2727B" stroke="#2a2a2a" stroke-width="0.75"/>
<line x1="322.95" y1="314.80" x2="322.95" y2="316.42" stroke="#222" stroke-width="0.7"/>
<line x1="321.25" y1="316.42" x2="324.65" y2="316.42" stroke="#222" stroke-width="0.9"/>
<line x1="321.15" y1="314.80" x2="324.75" y2="314.80" stroke="#222" stroke-width="1.1"/>
<circle cx="322.95" cy="311.50" r="0.85" fill="#222"/>
<line x1="286.2" y1="356.8" x2="327.1" y2="356.8" stroke="#8a8a8a" stroke-width="1.2"/>
<line x1="291.8" y1="359.5" x2="305.6" y2="359.5" stroke="#555" stroke-width="1"/>
<line x1="310.7" y1="359.5" x2="324.3" y2="359.5" stroke="#555" stroke-width="1"/>
<text x="298.45" y="367.70" font-size="7.0" text-anchor="middle" textLength="11.30" lengthAdjust="spacingAndGlyphs" class="e">MIA</text>
<text x="317.55" y="367.70" font-size="7.0" text-anchor="middle" textLength="19.40" lengthAdjust="spacingAndGlyphs" class="e">BxPC-3</text>
<text x="298.45" y="374.80" font-size="7.0" text-anchor="middle" textLength="19.10" lengthAdjust="spacingAndGlyphs" class="e">PaCa-2</text>
<text x="369.90" y="293.20" font-size="7.5" text-anchor="middle" class="e">MYB</text>
<line x1="349.2" y1="298.5" x2="349.2" y2="356.8" stroke="#8a8a8a" stroke-width="1.1"/>
<line x1="347.0" y1="356.80" x2="348.7" y2="356.80" stroke="#333" stroke-width="0.9"/>
<text x="341.90" y="359.15" font-size="7.2" text-anchor="end" textLength="9.40" lengthAdjust="spacingAndGlyphs" class="e">0.0</text>
<line x1="347.0" y1="329.70" x2="348.7" y2="329.70" stroke="#333" stroke-width="0.9"/>
<text x="341.90" y="332.05" font-size="7.2" text-anchor="end" textLength="9.40" lengthAdjust="spacingAndGlyphs" class="e">1.0</text>
<line x1="347.0" y1="302.60" x2="348.7" y2="302.60" stroke="#333" stroke-width="0.9"/>
<text x="341.90" y="304.95" font-size="7.2" text-anchor="end" textLength="9.40" lengthAdjust="spacingAndGlyphs" class="e">2.0</text>
<rect x="351.50" y="329.70" width="5.1" height="27.10" fill="#4D86EE" stroke="#2a2a2a" stroke-width="0.75"/>
<line x1="354.05" y1="328.07" x2="354.05" y2="331.33" stroke="#222" stroke-width="0.7"/>
<line x1="352.35" y1="331.33" x2="355.75" y2="331.33" stroke="#222" stroke-width="0.9"/>
<line x1="352.25" y1="328.07" x2="355.85" y2="328.07" stroke="#222" stroke-width="1.1"/>
<rect x="361.50" y="301.52" width="5.1" height="55.28" fill="#F2727B" stroke="#2a2a2a" stroke-width="0.75"/>
<line x1="364.05" y1="300.97" x2="364.05" y2="302.06" stroke="#222" stroke-width="0.7"/>
<line x1="362.35" y1="302.06" x2="365.75" y2="302.06" stroke="#222" stroke-width="0.9"/>
<line x1="362.25" y1="300.97" x2="365.85" y2="300.97" stroke="#222" stroke-width="1.1"/>
<circle cx="364.05" cy="297.67" r="0.85" fill="#222"/>
<rect x="371.60" y="329.70" width="5.1" height="27.10" fill="#4D86EE" stroke="#2a2a2a" stroke-width="0.75"/>
<line x1="374.15" y1="327.53" x2="374.15" y2="331.87" stroke="#222" stroke-width="0.7"/>
<line x1="372.45" y1="331.87" x2="375.85" y2="331.87" stroke="#222" stroke-width="0.9"/>
<line x1="372.35" y1="327.53" x2="375.95" y2="327.53" stroke="#222" stroke-width="1.1"/>
<rect x="381.60" y="321.30" width="5.1" height="35.50" fill="#F2727B" stroke="#2a2a2a" stroke-width="0.75"/>
<line x1="384.15" y1="318.59" x2="384.15" y2="324.01" stroke="#222" stroke-width="0.7"/>
<line x1="382.45" y1="324.01" x2="385.85" y2="324.01" stroke="#222" stroke-width="0.9"/>
<line x1="382.35" y1="318.59" x2="385.95" y2="318.59" stroke="#222" stroke-width="1.1"/>
<circle cx="384.15" cy="315.29" r="0.85" fill="#222"/>
<line x1="347.4" y1="356.8" x2="388.3" y2="356.8" stroke="#8a8a8a" stroke-width="1.2"/>
<line x1="353.0" y1="359.5" x2="366.8" y2="359.5" stroke="#555" stroke-width="1"/>
<line x1="371.9" y1="359.5" x2="385.5" y2="359.5" stroke="#555" stroke-width="1"/>
<text x="359.65" y="367.70" font-size="7.0" text-anchor="middle" textLength="11.30" lengthAdjust="spacingAndGlyphs" class="e">MIA</text>
<text x="378.75" y="367.70" font-size="7.0" text-anchor="middle" textLength="19.40" lengthAdjust="spacingAndGlyphs" class="e">BxPC-3</text>
<text x="359.65" y="374.80" font-size="7.0" text-anchor="middle" textLength="19.10" lengthAdjust="spacingAndGlyphs" class="e">PaCa-2</text>
<text x="432.00" y="293.20" font-size="7.5" text-anchor="middle" class="e">PLCE1</text>
<line x1="411.3" y1="298.5" x2="411.3" y2="356.8" stroke="#8a8a8a" stroke-width="1.1"/>
<line x1="409.1" y1="356.80" x2="410.8" y2="356.80" stroke="#333" stroke-width="0.9"/>
<text x="404.00" y="359.15" font-size="7.2" text-anchor="end" textLength="9.40" lengthAdjust="spacingAndGlyphs" class="e">0.0</text>
<line x1="409.1" y1="339.76" x2="410.8" y2="339.76" stroke="#333" stroke-width="0.9"/>
<text x="404.00" y="342.12" font-size="7.2" text-anchor="end" textLength="9.40" lengthAdjust="spacingAndGlyphs" class="e">0.5</text>
<line x1="409.1" y1="322.73" x2="410.8" y2="322.73" stroke="#333" stroke-width="0.9"/>
<text x="404.00" y="325.08" font-size="7.2" text-anchor="end" textLength="9.40" lengthAdjust="spacingAndGlyphs" class="e">1.0</text>
<line x1="409.1" y1="305.69" x2="410.8" y2="305.69" stroke="#333" stroke-width="0.9"/>
<text x="404.00" y="308.05" font-size="7.2" text-anchor="end" textLength="9.40" lengthAdjust="spacingAndGlyphs" class="e">1.5</text>
<rect x="413.60" y="322.73" width="5.1" height="34.07" fill="#4D86EE" stroke="#2a2a2a" stroke-width="0.75"/>
<line x1="416.15" y1="322.05" x2="416.15" y2="323.41" stroke="#222" stroke-width="0.7"/>
<line x1="414.45" y1="323.41" x2="417.85" y2="323.41" stroke="#222" stroke-width="0.9"/>
<line x1="414.35" y1="322.05" x2="417.95" y2="322.05" stroke="#222" stroke-width="1.1"/>
<rect x="423.60" y="301.61" width="5.1" height="55.19" fill="#F2727B" stroke="#2a2a2a" stroke-width="0.75"/>
<line x1="426.15" y1="300.93" x2="426.15" y2="302.29" stroke="#222" stroke-width="0.7"/>
<line x1="424.45" y1="302.29" x2="427.85" y2="302.29" stroke="#222" stroke-width="0.9"/>
<line x1="424.35" y1="300.93" x2="427.95" y2="300.93" stroke="#222" stroke-width="1.1"/>
<circle cx="426.15" cy="297.63" r="0.85" fill="#222"/>
<rect x="433.70" y="322.73" width="5.1" height="34.07" fill="#4D86EE" stroke="#2a2a2a" stroke-width="0.75"/>
<line x1="434.45" y1="322.73" x2="438.05" y2="322.73" stroke="#222" stroke-width="1.1"/>
<rect x="443.70" y="316.26" width="5.1" height="40.54" fill="#F2727B" stroke="#2a2a2a" stroke-width="0.75"/>
<line x1="446.25" y1="315.23" x2="446.25" y2="317.28" stroke="#222" stroke-width="0.7"/>
<line x1="444.55" y1="317.28" x2="447.95" y2="317.28" stroke="#222" stroke-width="0.9"/>
<line x1="444.45" y1="315.23" x2="448.05" y2="315.23" stroke="#222" stroke-width="1.1"/>
<circle cx="446.25" cy="311.93" r="0.85" fill="#222"/>
<line x1="409.5" y1="356.8" x2="450.40000000000003" y2="356.8" stroke="#8a8a8a" stroke-width="1.2"/>
<line x1="415.1" y1="359.5" x2="428.90000000000003" y2="359.5" stroke="#555" stroke-width="1"/>
<line x1="434.0" y1="359.5" x2="447.6" y2="359.5" stroke="#555" stroke-width="1"/>
<text x="421.75" y="367.70" font-size="7.0" text-anchor="middle" textLength="11.30" lengthAdjust="spacingAndGlyphs" class="e">MIA</text>
<text x="440.85" y="367.70" font-size="7.0" text-anchor="middle" textLength="19.40" lengthAdjust="spacingAndGlyphs" class="e">BxPC-3</text>
<text x="421.75" y="374.80" font-size="7.0" text-anchor="middle" textLength="19.10" lengthAdjust="spacingAndGlyphs" class="e">PaCa-2</text>
<text x="493.70" y="293.20" font-size="7.5" text-anchor="middle" class="e">RASSF5</text>
<line x1="473.0" y1="298.5" x2="473.0" y2="356.8" stroke="#8a8a8a" stroke-width="1.1"/>
<line x1="470.8" y1="356.80" x2="472.5" y2="356.80" stroke="#333" stroke-width="0.9"/>
<text x="465.70" y="359.15" font-size="7.2" text-anchor="end" textLength="9.40" lengthAdjust="spacingAndGlyphs" class="e">0.0</text>
<line x1="470.8" y1="340.45" x2="472.5" y2="340.45" stroke="#333" stroke-width="0.9"/>
<text x="465.70" y="342.80" font-size="7.2" text-anchor="end" textLength="9.40" lengthAdjust="spacingAndGlyphs" class="e">0.5</text>
<line x1="470.8" y1="324.10" x2="472.5" y2="324.10" stroke="#333" stroke-width="0.9"/>
<text x="465.70" y="326.45" font-size="7.2" text-anchor="end" textLength="9.40" lengthAdjust="spacingAndGlyphs" class="e">1.0</text>
<line x1="470.8" y1="307.75" x2="472.5" y2="307.75" stroke="#333" stroke-width="0.9"/>
<text x="465.70" y="310.10" font-size="7.2" text-anchor="end" textLength="9.40" lengthAdjust="spacingAndGlyphs" class="e">1.5</text>
<rect x="475.30" y="324.10" width="5.1" height="32.70" fill="#4D86EE" stroke="#2a2a2a" stroke-width="0.75"/>
<line x1="477.85" y1="322.47" x2="477.85" y2="325.74" stroke="#222" stroke-width="0.7"/>
<line x1="476.15" y1="325.74" x2="479.55" y2="325.74" stroke="#222" stroke-width="0.9"/>
<line x1="476.05" y1="322.47" x2="479.65" y2="322.47" stroke="#222" stroke-width="1.1"/>
<rect x="485.30" y="305.79" width="5.1" height="51.01" fill="#F2727B" stroke="#2a2a2a" stroke-width="0.75"/>
<line x1="487.85" y1="304.48" x2="487.85" y2="307.10" stroke="#222" stroke-width="0.7"/>
<line x1="486.15" y1="307.10" x2="489.55" y2="307.10" stroke="#222" stroke-width="0.9"/>
<line x1="486.05" y1="304.48" x2="489.65" y2="304.48" stroke="#222" stroke-width="1.1"/>
<circle cx="487.85" cy="301.18" r="0.85" fill="#222"/>
<rect x="495.40" y="324.10" width="5.1" height="32.70" fill="#4D86EE" stroke="#2a2a2a" stroke-width="0.75"/>
<line x1="496.15" y1="324.10" x2="499.75" y2="324.10" stroke="#222" stroke-width="1.1"/>
<rect x="505.40" y="310.04" width="5.1" height="46.76" fill="#F2727B" stroke="#2a2a2a" stroke-width="0.75"/>
<line x1="507.95" y1="307.42" x2="507.95" y2="312.65" stroke="#222" stroke-width="0.7"/>
<line x1="506.25" y1="312.65" x2="509.65" y2="312.65" stroke="#222" stroke-width="0.9"/>
<line x1="506.15" y1="307.42" x2="509.75" y2="307.42" stroke="#222" stroke-width="1.1"/>
<circle cx="507.95" cy="304.12" r="0.85" fill="#222"/>
<line x1="471.2" y1="356.8" x2="512.1" y2="356.8" stroke="#8a8a8a" stroke-width="1.2"/>
<line x1="476.8" y1="359.5" x2="490.6" y2="359.5" stroke="#555" stroke-width="1"/>
<line x1="495.7" y1="359.5" x2="509.3" y2="359.5" stroke="#555" stroke-width="1"/>
<text x="483.45" y="367.70" font-size="7.0" text-anchor="middle" textLength="11.30" lengthAdjust="spacingAndGlyphs" class="e">MIA</text>
<text x="502.55" y="367.70" font-size="7.0" text-anchor="middle" textLength="19.40" lengthAdjust="spacingAndGlyphs" class="e">BxPC-3</text>
<text x="483.45" y="374.80" font-size="7.0" text-anchor="middle" textLength="19.10" lengthAdjust="spacingAndGlyphs" class="e">PaCa-2</text>
<rect x="233.1" y="379.2" width="78.1" height="11.5" fill="#fff" stroke="#333" stroke-width="0.9"/>
<rect x="236.4" y="383.1" width="6.5" height="3.9" fill="#4D86EE" stroke="#222" stroke-width="0.6"/>
<rect x="276.3" y="383.1" width="7" height="3.9" fill="#F2727B" stroke="#222" stroke-width="0.6"/>
<text x="244.70" y="387.60" font-size="8.5" textLength="28.30" lengthAdjust="spacingAndGlyphs" >Parental</text>
<text x="285.00" y="387.60" font-size="8.5" textLength="24.50" lengthAdjust="spacingAndGlyphs" >Gem-R</text>
<text x="271.90" y="406.60" font-size="14" text-anchor="middle" class="pl" textLength="16.20" lengthAdjust="spacingAndGlyphs">(<tspan font-weight="bold">E</tspan>)</text>
</svg>
</body></html>
